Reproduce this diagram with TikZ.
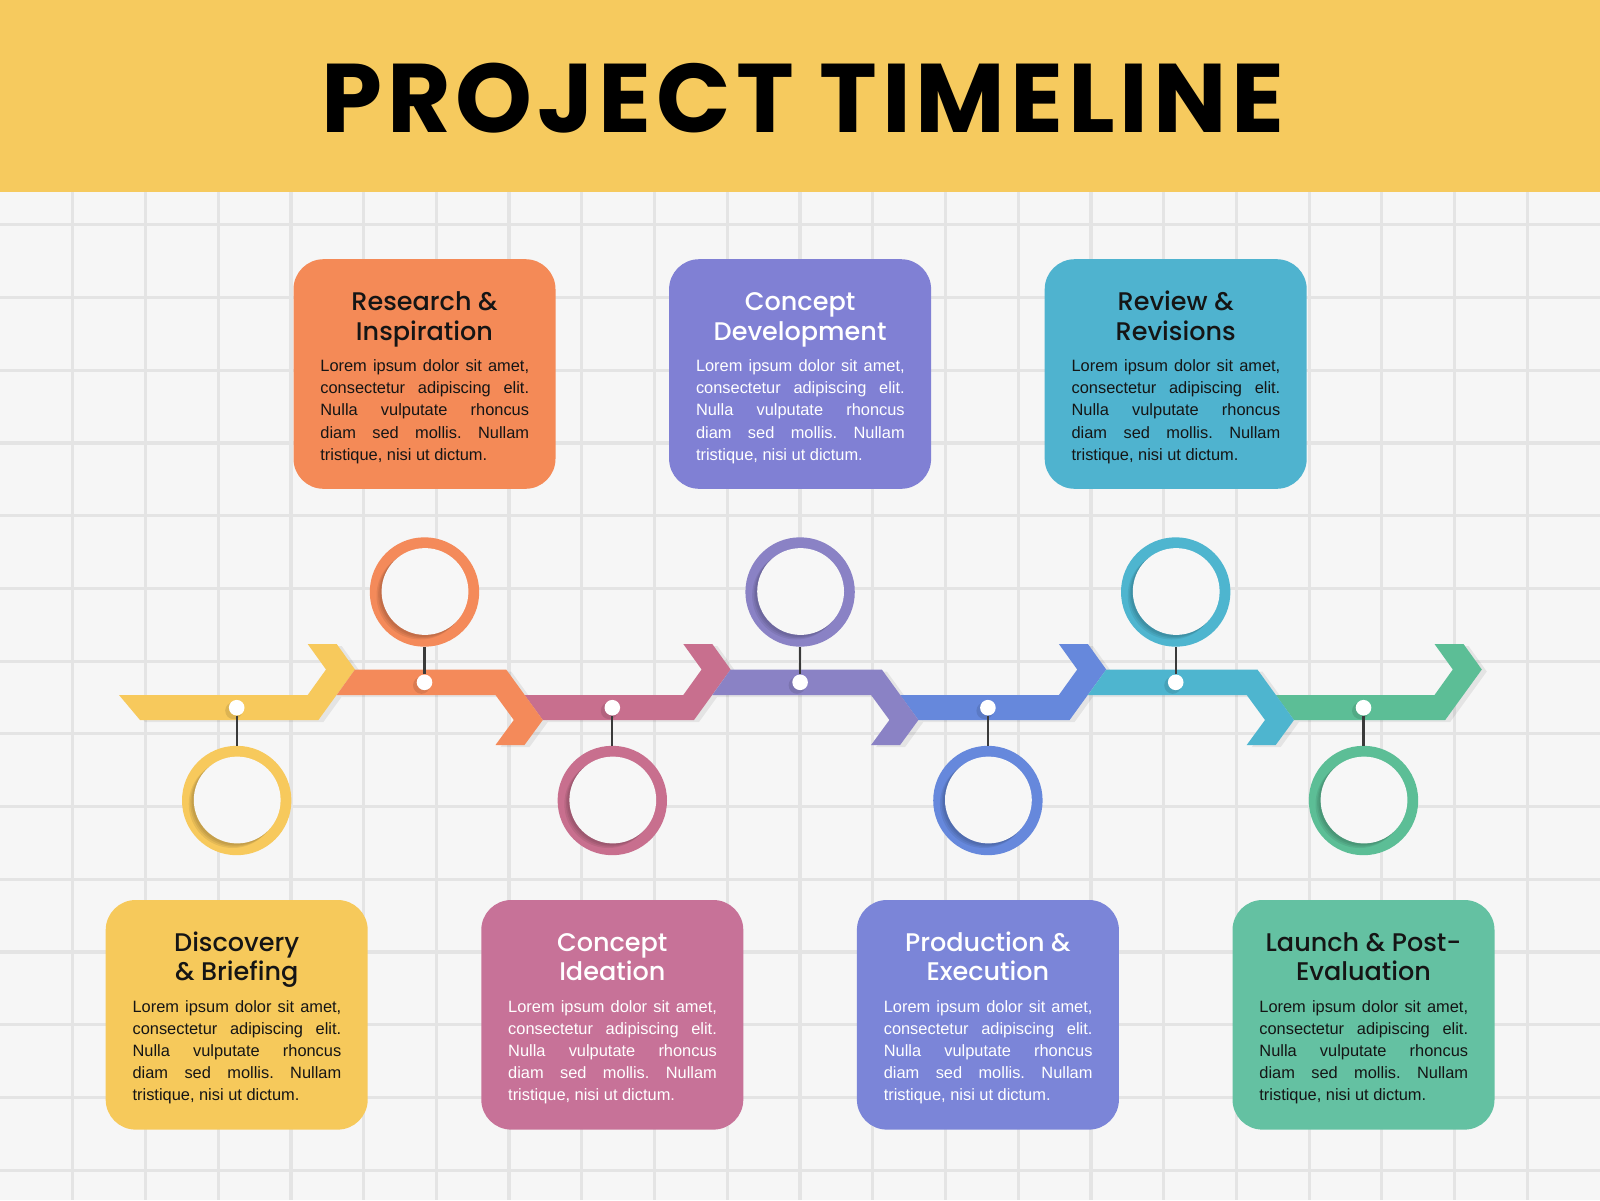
\documentclass[tikz,border=0pt]{standalone}
\usepackage{fontspec}
\usepackage{graphicx}
\setmainfont{Liberation Sans}
\newfontfamily\headfont{Poppins Medium}
\newfontfamily\titlefont{Poppins Bold}[LetterSpace=5]
\definecolor{bandcol}{HTML}{F6CA5E}
\definecolor{bgcol}{HTML}{F6F6F6}
\definecolor{gridcol}{HTML}{E4E4E4}
\definecolor{innercol}{HTML}{F7F7F7}
\definecolor{stemcol}{HTML}{3A3A3A}
\definecolor{txtdark}{HTML}{151515}
\definecolor{ca}{HTML}{F7C95C}
\definecolor{cb}{HTML}{F48A5A}
\definecolor{cc}{HTML}{C86F8E}
\definecolor{cd}{HTML}{8A82C5}
\definecolor{ce}{HTML}{6688DC}
\definecolor{cf}{HTML}{4EB5CF}
\definecolor{cg}{HTML}{5CBE96}
\definecolor{ba}{HTML}{F6C95B}
\definecolor{bb}{HTML}{F48A57}
\definecolor{bc}{HTML}{C77298}
\definecolor{bd}{HTML}{8080D4}
\definecolor{be}{HTML}{7B85D8}
\definecolor{bf}{HTML}{4FB3CF}
\definecolor{bg}{HTML}{64C1A2}
\tikzset{
  gridline/.style={gridcol, line width=3.2pt},
  pbox/.style={rounded corners=30pt, minimum width=262pt, minimum height=229.6pt, inner sep=0pt},
  ring/.style={circle, minimum size=109.4pt, inner sep=0pt},
  dotnode/.style={circle, fill=white, minimum size=15.6pt, inner sep=0pt},
  stem/.style={stemcol, line width=2.2pt},
  segshadow/.style={black, opacity=0.07},
  innershade/.style={black, opacity=0.07},
}
\newcommand\bodytext{\parbox[t]{208.7pt}{\frenchspacing\tolerance=10000\hbadness=10000\fontsize{16.4}{22.1}\selectfont Lorem ipsum dolor sit amet,\linebreak consectetur adipiscing elit.\linebreak Nulla vulputate rhoncus\linebreak diam sed mollis. Nullam\linebreak tristique, nisi ut dictum.}}
% #1 name, #2 cx, #3 top, #4 fill, #5 text colour, #6 #7 heading lines
\newcommand\phasebox[7]{%
  \node[pbox, fill=#4] (#1) at (#2,{#3+114.8}) {};
  \node[anchor=base, inner sep=0pt, text=#5] (#1h) at (#2,{#3+51.5})
    {\parbox[t]{250pt}{\centering\headfont\fontsize{25.5}{29.3}\selectfont #6\\#7}};
  \node[anchor=base west, inner sep=0pt, text=#5] (#1t) at ({#2-104.3},{#3+112.5}) {\bodytext};
}
% #1 name, #2 cx, #3 cy, #4 colour
\newcommand\ringnode[4]{%
  \node[ring, fill=#4] (#1) at (#2,#3) {};
  \fill[innershade] ([shift={(-4,3.5)}]#1.center) circle (44);
  \fill[innershade] ([shift={(-2.6,2.4)}]#1.center) circle (43.8);
  \fill[innershade] ([shift={(-1.4,1.3)}]#1.center) circle (43.6);
  \fill[innercol] ([shift={(0.5,-0.5)}]#1.center) circle (43.4);
}
\begin{document}
\begin{tikzpicture}[x=1pt,y=-1pt]
\useasboundingbox (0,0) rectangle (1600,1200);
\fill[bgcol] (0,0) rectangle (1600,1200);
\foreach \k in {1,...,21} \draw[gridline] ({\k*72.727},0) -- ({\k*72.727},1200);
\foreach \k in {0,...,16} \draw[gridline] (0,{6.6+\k*72.727}) -- (1600,{6.6+\k*72.727});
\fill[bandcol] (0,0) rectangle (1600,191.8);
\node[anchor=base, inner sep=0pt] (title) at (803,132.7) {\resizebox{963pt}{69.4pt}{\titlefont PROJECT TIMELINE}};

% ---- shadows of the arrow segments
\foreach \i in {2,4,6} {
  \pgfmathsetmacro\T{355+187.8*\i}
  \pgfmathsetmacro\P{\T-187.8}
  \fill[segshadow] ({\P-18.3+5},697) -- ({\T-47.3+5},697) -- ({\T-29+5},671.5) -- ({\T-47.3+5},646) -- ({\T-18.3+5},646) -- ({\T+5},671.5) -- ({\T-36.6+5},722) -- ({\P+5},722) -- cycle;
}
\foreach \i in {1,3,5} {
  \pgfmathsetmacro\T{355+187.8*\i}
  \pgfmathsetmacro\P{\T-187.8}
  \fill[segshadow] ({\P+5},671.5) -- ({\T-36.6+5},671.5) -- ({\T+5},722) -- ({\T-18.3+5},747) -- ({\T-47.3+5},747) -- ({\T-29+5},722) -- ({\T-47.3+5},697) -- ({\P-18.3+5},697) -- cycle;
}
\fill[segshadow] (124,697) -- (312.7,697) -- (331,671.5) -- (312.7,646) -- (341.7,646) -- (360,671.5) -- (323.4,722) -- (145,722) -- cycle;

% ---- arrow segments
\fill[ca] (119,695) -- (307.7,695) -- (326,669.5) -- (307.7,644) -- (336.7,644) -- (355,669.5) -- (318.4,720) -- (140,720) -- cycle;
\foreach \i/\col in {2/cc,4/ce,6/cg} {
  \pgfmathsetmacro\T{355+187.8*\i}
  \pgfmathsetmacro\P{\T-187.8}
  \fill[\col] ({\P-18.3},695) -- ({\T-47.3},695) -- ({\T-29},669.5) -- ({\T-47.3},644) -- ({\T-18.3},644) -- (\T,669.5) -- ({\T-36.6},720) -- (\P,720) -- cycle;
}
\foreach \i/\col in {1/cb,3/cd,5/cf} {
  \pgfmathsetmacro\T{355+187.8*\i}
  \pgfmathsetmacro\P{\T-187.8}
  \fill[\col] (\P,669.5) -- ({\T-36.6},669.5) -- (\T,720) -- ({\T-18.3},745) -- ({\T-47.3},745) -- ({\T-29},720) -- ({\T-47.3},695) -- ({\P-18.3},695) -- cycle;
}

% ---- rings
\ringnode{ra}{236.7}{800.5}{ca}
\ringnode{rb}{424.5}{592}{cb}
\ringnode{rc}{612.3}{800.5}{cc}
\ringnode{rd}{800.1}{592}{cd}
\ringnode{re}{987.9}{800.5}{ce}
\ringnode{rf}{1175.7}{592}{cf}
\ringnode{rg}{1363.5}{800.5}{cg}

% ---- dots and stems
\foreach \n/\x/\y in {a/236.7/707.7, b/424.5/682.3, c/612.3/707.7, d/800.1/682.3, e/987.9/707.7, f/1175.7/682.3, g/1363.5/707.7} {
  \fill[black, opacity=0.10] ({\x-3},{\y+3}) circle (8.5);
  \node[dotnode] (d\n) at (\x,\y) {};
  \draw[stem] (d\n) -- (r\n);
}

% ---- phase boxes
\phasebox{pa}{236.7}{900}{ba}{txtdark}{Discovery}{\& Briefing}
\phasebox{pb}{424.5}{259.2}{bb}{txtdark}{Research \&}{Inspiration}
\phasebox{pc}{612.3}{900}{bc}{white}{Concept}{Ideation}
\phasebox{pd}{800.1}{259.2}{bd}{white}{Concept}{Development}
\phasebox{pe}{987.9}{900}{be}{white}{Production \&}{Execution}
\phasebox{pf}{1175.7}{259.2}{bf}{txtdark}{Review \&}{Revisions}
\phasebox{pg}{1363.5}{900}{bg}{txtdark}{Launch \& Post-}{Evaluation}
\end{tikzpicture}
\end{document}
